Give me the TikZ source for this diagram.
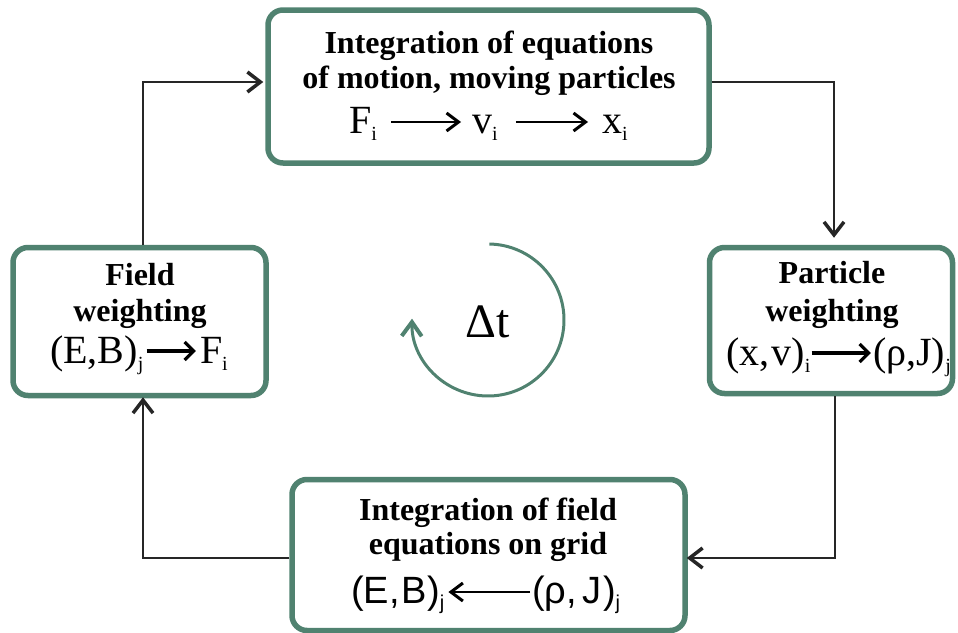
\documentclass[tikz,border=0pt]{standalone}
\usepackage{fontspec}
\setmainfont{Liberation Serif}
\newfontfamily\sansf{Liberation Sans}
\usetikzlibrary{arrows.meta}
\definecolor{boxgreen}{RGB}{80,130,112}
\newcommand\sbs[1]{\raisebox{-0.18em}{\fontsize{20}{20}\selectfont #1}}
\begin{document}
\begin{tikzpicture}[x=1pt,y=-1pt,
  box/.style={draw=boxgreen, line width=5.5pt, rounded corners=15pt, fill=white, inner sep=0pt},
  ttl/.style={font=\fontsize{32}{36}\selectfont\bfseries, inner sep=0pt, anchor=base},
  fml/.style={font=\fontsize{40}{42}\selectfont, inner sep=0pt},
  sfml/.style={font=\fontsize{38}{42}\selectfont\sansf, inner sep=0pt},
  conn/.style={draw=black!85, line width=1.2pt, -{Straight Barb[length=13pt,width=20pt,line width=3.5pt]}},
  farrow/.style={draw=black, line width=2pt, -{Straight Barb[length=12pt,width=18pt,line width=3pt]}},
  barrow/.style={draw=black, line width=3.2pt, -{Straight Barb[length=9pt,width=18pt,line width=3.2pt]}},
  cyc/.style={draw=boxgreen, line width=3pt, -{Straight Barb[length=14pt,width=20pt,line width=4pt]}}]
\useasboundingbox (0,0) rectangle (958,632);
% boxes
\node[box, minimum width=441pt, minimum height=153pt] (tb) at (488.5,86.5) {};
\node[box, minimum width=253pt, minimum height=148pt] (lb) at (139.5,321.5) {};
\node[box, minimum width=243pt, minimum height=146pt] (rb) at (831,320.5) {};
\node[box, minimum width=393pt, minimum height=151pt] (bb) at (488.5,555) {};
% top box text
\node[ttl] (tb1) at (489,53) {Integration of equations};
\node[ttl] (tb2) at (489,88) {of motion, moving particles};
\node[fml, anchor=base west] (fF) at (349,133) {F\sbs{i}};
\node[fml, anchor=base west] (fv) at (472,133) {v\sbs{i}};
\node[fml, anchor=base west] (fx) at (602,133) {x\sbs{i}};
\draw[farrow] ([xshift=14pt,yshift=11pt]fF.base east) -- ([xshift=-11pt,yshift=11pt]fv.base west);
\draw[farrow] ([xshift=18pt,yshift=11pt]fv.base east) -- ([xshift=-14pt,yshift=11pt]fx.base west);
% left box text
\node[ttl] (lb1) at (140,285) {Field};
\node[ttl] (lb2) at (140,321) {weighting};
\node[fml, anchor=base west] (lf1) at (50,363) {(E,B)\sbs{j}};
\node[fml, anchor=base east] (lf2) at (228,363) {F\sbs{i}};
\draw[barrow] ([xshift=3pt,yshift=12pt]lf1.base east) -- ([xshift=-4pt,yshift=12pt]lf2.base west);
% right box text
\node[ttl] (rb1) at (832,283) {Particle};
\node[ttl] (rb2) at (832,321) {weighting};
\node[fml, anchor=base west] (rf1) at (726,365) {(x,\kern2pt v)\sbs{i}};
\node[fml, anchor=base east] (rf2) at (951,365) {(ρ,J)\sbs{j}};
\draw[barrow] ([xshift=1pt,yshift=12pt]rf1.base east) -- ([xshift=-2pt,yshift=12pt]rf2.base west);
% bottom box text
\node[ttl] (bb1) at (488,520) {Integration of field};
\node[ttl] (bb2) at (488,554) {equations on grid};
\node[sfml, anchor=base west] (bf1) at (351,603) {(E,\kern2pt B)\sbs{j}};
\node[sfml, anchor=base west] (bf2) at (532,603) {(ρ,\kern5pt J\kern2pt)\sbs{j}};
\draw[farrow] ([xshift=-2pt,yshift=11pt]bf2.base west) -- ([xshift=4pt,yshift=11pt]bf1.base east);
% connectors
\coordinate (c1) at (143,82);
\coordinate (c2) at (834,82);
\coordinate (c3) at (835,558);
\coordinate (c4) at (143,558);
\draw[conn] (lb.north -| c1) -- (c1) -- ([xshift=-2pt]tb.west |- c1);
\draw[conn, shorten >=7pt] (tb.east |- c2) -- (c2) -- (rb.north -| c2);
\draw[conn, shorten >=-1pt] (rb.south -| c3) -- (c3) -- (bb.east |- c3);
\draw[conn, shorten >=-1pt] (bb.west |- c4) -- (c4) -- (lb.south -| c4);
% cycle
\coordinate (cc) at (488,320);
\draw[cyc] ([shift={(271:76)}]cc) arc[start angle=271, end angle=541, radius=76];
\node[font=\fontsize{48}{48}\selectfont, inner sep=0pt, anchor=base] (dt) at (488,337) {Δt};
\end{tikzpicture}
\end{document}
